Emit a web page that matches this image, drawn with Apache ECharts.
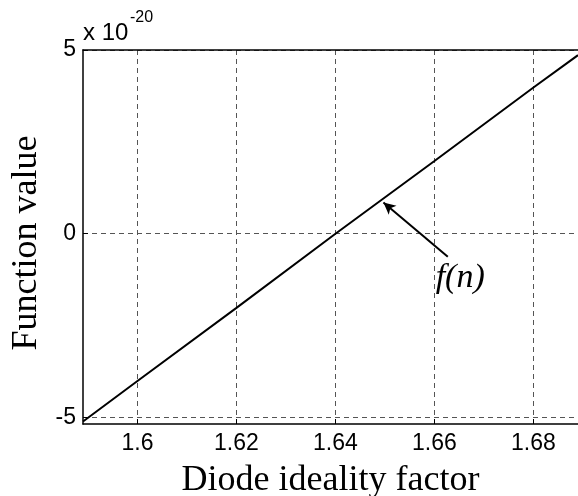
<!DOCTYPE html>
<html>
<head>
<meta charset="utf-8">
<script src="https://cdn.jsdelivr.net/npm/echarts@6/dist/echarts.min.js"></script>
<style>
    html, body { margin: 0; padding: 0; background: #fff; }
    #chart { width: 578px; height: 496px; }
</style>
</head>
<body>
<div id="chart"></div>
<script>
// f(n) in units of 1e-20
const idealityFactor = [1.589, 1.6, 1.62, 1.64, 1.66, 1.68, 1.689]
const functionValue = [-5.11, -4.01, -2.02, 0.0, 1.98, 3.98, 4.86]
const xTicks = [1.6, 1.62, 1.64, 1.66, 1.68]
const yTicks = [-5, 0, 5]
const arrowFrom = [1.6627, -0.63]
const arrowTo = [1.6497, 0.85]
const labelAt = [1.6652, -1.22]

const chart = echarts.init(document.getElementById('chart'))

const gridDash = {
    color: '#555',
    width: 1,
    type: [5, 4]
}

const option = {
    animation: false,
    grid: {
        left: 83,
        right: 0,
        top: 50,
        bottom: 72,
        containLabel: false,
        outerBoundsMode: 'none'
    },
    xAxis: [{
        type: 'value',
        min: 1.589,
        max: 1.689,
        name: 'Diode ideality factor',
        nameLocation: 'middle',
        nameGap: 39,
        nameTextStyle: {
            fontFamily: 'Liberation Serif',
            fontSize: 36,
            color: '#000'
        },
        axisLine: { onZero: false, lineStyle: { color: '#000', width: 1.5 } },
        axisTick: { inside: true, length: 5, customValues: xTicks, lineStyle: { color: '#000' } },
        axisLabel: {
            margin: 8,
            fontFamily: 'Liberation Sans',
            fontSize: 23,
            color: '#000',
            customValues: xTicks
        },
        splitLine: { show: true, lineStyle: gridDash }
    }, {
        type: 'value',
        position: 'top',
        min: 1.589,
        max: 1.689,
        axisLine: { show: true, onZero: false, lineStyle: { color: '#000', width: 1.5 } },
        axisTick: { show: false },
        axisLabel: { show: false },
        splitLine: { show: false }
    }],
    yAxis: {
        type: 'value',
        min: -5.18,
        max: 5,
        name: 'Function value',
        nameLocation: 'middle',
        nameGap: 27,
        nameTextStyle: {
            fontFamily: 'Liberation Serif',
            fontSize: 36,
            color: '#000',
            padding: [0, 12, 0, 0]
        },
        axisLine: { show: true, onZero: false, lineStyle: { color: '#000', width: 1.5 } },
        axisTick: { inside: true, length: 5, customValues: yTicks, lineStyle: { color: '#000' } },
        axisLabel: {
            margin: 7,
            fontFamily: 'Liberation Sans',
            fontSize: 23,
            color: '#000',
            customValues: yTicks
        },
        splitLine: { show: true, lineStyle: gridDash }
    },
    series: [{
        type: 'line',
        data: idealityFactor.map((n, i) => [n, functionValue[i]]),
        showSymbol: false,
        lineStyle: { color: '#000', width: 2 },
        markLine: {
            silent: true,
            symbol: ['none', 'arrow'],
            symbolSize: [9, 12],
            label: { show: false },
            lineStyle: { color: '#000', width: 2, type: 'solid' },
            data: [[{ coord: arrowFrom }, { coord: arrowTo }]]
        }
    }]
}

chart.setOption(option)

const lp = chart.convertToPixel({ gridIndex: 0 }, labelAt)
chart.setOption({
    graphic: [{
        type: 'text',
        left: 83,
        top: 21,
        style: {
            text: 'x 10',
            font: '24px "Liberation Sans"',
            fill: '#000'
        }
    }, {
        type: 'text',
        left: 130,
        top: 10,
        style: {
            text: '-20',
            font: '16px "Liberation Sans"',
            fill: '#000'
        }
    }, {
        type: 'text',
        x: lp[0],
        y: lp[1],
        style: {
            text: 'f(n)',
            font: 'italic 34px "Liberation Serif"',
            fill: '#000',
            align: 'center',
            verticalAlign: 'middle'
        }
    }]
})
</script>
</body>
</html>
